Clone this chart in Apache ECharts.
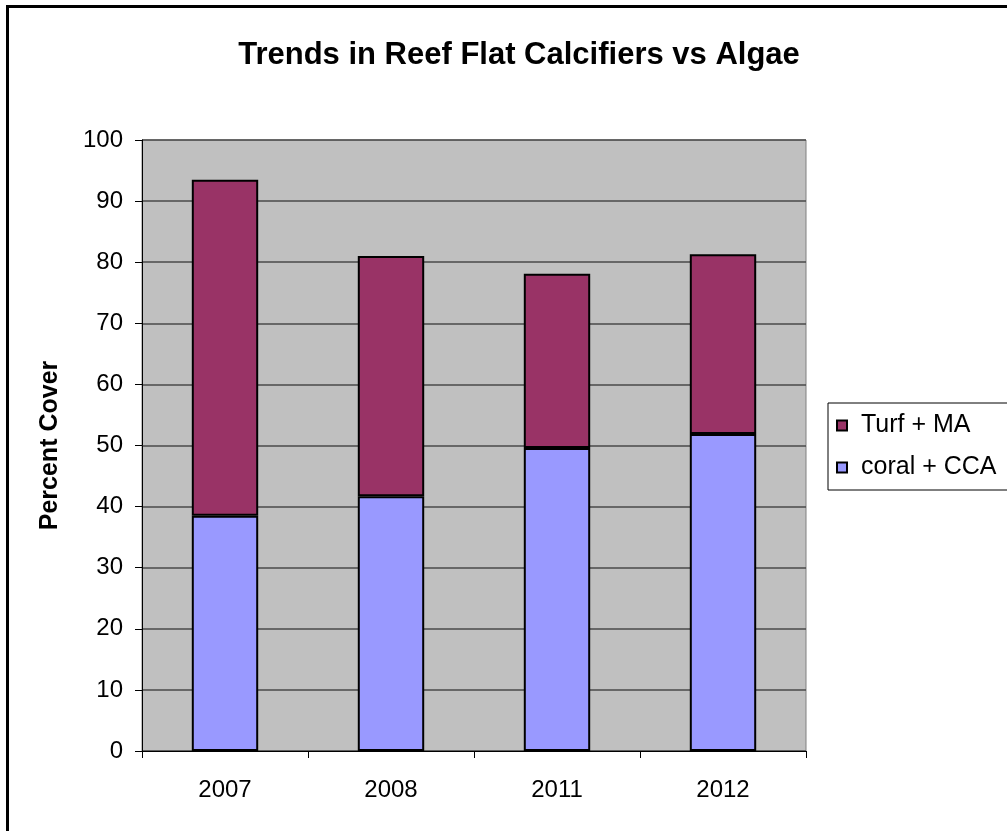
<!DOCTYPE html>
<html>
<head>
<meta charset="utf-8">
<script src="https://cdn.jsdelivr.net/npm/echarts@6/dist/echarts.min.js"></script>
<style>
html,body{margin:0;padding:0;background:#fff;}
#c{width:1007px;height:831px;}
</style>
</head>
<body>
<div id="c"></div>
<script>
const categories = ['2007', '2008', '2011', '2012'];
const coralCCA = [38.5, 41.7, 49.6, 51.9];
const turfMA = [55.0, 39.3, 28.5, 29.4];
const yTicks = [0, 10, 20, 30, 40, 50, 60, 70, 80, 90, 100];

const FONT = '"Liberation Sans", Arial, sans-serif';
const chart = echarts.init(document.getElementById('c'), null, {renderer: 'canvas'});
chart.setOption({
  backgroundColor: '#ffffff',
  animation: false,
  title: {
    text: 'Trends in Reef Flat Calcifiers vs Algae',
    left: 514, top: 35, textAlign: 'center',
    textStyle: {fontFamily: FONT, fontSize: 31, fontWeight: 'bold', color: '#000'}
  },
  graphic: [{
    type: 'rect', shape: {x: 7.5, y: 6.5, width: 1100, height: 900},
    style: {fill: 'none', stroke: '#000', lineWidth: 3}, silent: true, z: 100
  }],
  legend: {
    orient: 'vertical', left: 828, top: 403,
    data: ['Turf + MA', 'coral + CCA'],
    itemWidth: 10, itemHeight: 10, itemGap: 17,
    padding: [10, 40, 10, 8],
    borderColor: '#000', borderWidth: 1,
    textStyle: {fontFamily: FONT, fontSize: 25, color: '#000', padding: [0, 0, 0, 9]},
    icon: 'rect'
  },
  grid: {left: 142, right: 201, top: 140, bottom: 80, show: true, backgroundColor: '#c0c0c0', borderColor: '#808080', borderWidth: 1},
  xAxis: {
    type: 'category', data: categories,
    axisLine: {show: true, lineStyle: {color: '#000', width: 1}},
    axisTick: {show: true, length: 7, lineStyle: {color: '#000'}},
    axisLabel: {fontFamily: FONT, fontSize: 24, color: '#000', margin: 27}
  },
  yAxis: {
    type: 'value', min: 0, max: 100, interval: 10,
    name: 'Percent Cover', nameLocation: 'middle', nameGap: 79, nameRotate: 90,
    nameTextStyle: {fontFamily: FONT, fontSize: 25, fontWeight: 'bold', color: '#000'},
    axisLine: {show: true, lineStyle: {color: '#000', width: 1}},
    axisTick: {show: true, length: 7, lineStyle: {color: '#000'}},
    axisLabel: {fontFamily: FONT, fontSize: 24, color: '#000', margin: 19,
      formatter: v => yTicks.includes(v) ? String(v) : ''},
    splitLine: {show: true, lineStyle: {color: '#4a4a4a', width: 1.5}}
  },
  series: [
    {name: 'coral + CCA', type: 'bar', stack: 's', data: coralCCA, barWidth: '40%',
      itemStyle: {color: '#9999ff', borderColor: '#000', borderWidth: 2}},
    {name: 'Turf + MA', type: 'bar', stack: 's', data: turfMA, barWidth: '40%',
      itemStyle: {color: '#993366', borderColor: '#000', borderWidth: 2}}
  ]
});
</script>
</body>
</html>
